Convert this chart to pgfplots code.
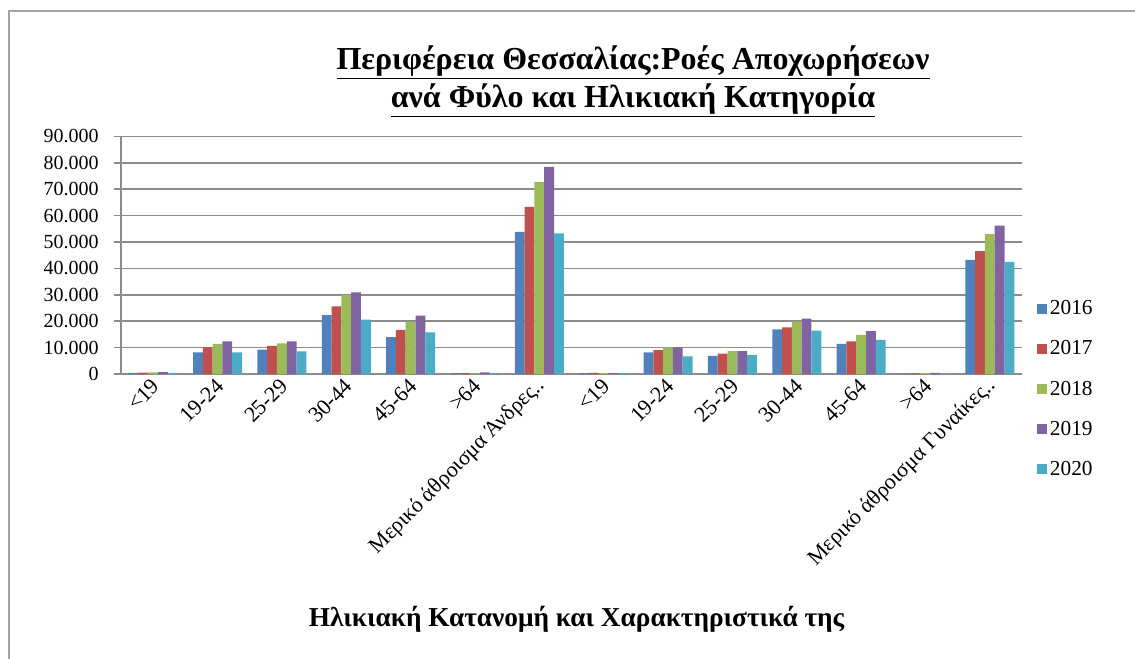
\documentclass[border=0pt]{standalone}
\usepackage{fontspec}
\setmainfont{Liberation Serif}
\usepackage{pgfplots}
\pgfplotsset{compat=1.18}
\definecolor{cA}{HTML}{4F81BD}
\definecolor{cB}{HTML}{C0504D}
\definecolor{cC}{HTML}{9BBB59}
\definecolor{cD}{HTML}{8064A2}
\definecolor{cE}{HTML}{4BACC6}
\definecolor{gridgray}{HTML}{8C8C8C}
\begin{document}
\begin{tikzpicture}
\path[use as bounding box] (0pt,0pt) rectangle (851.25pt,-494.25pt);
\draw[gridgray!80, line width=1.2pt] (6.75pt,-494.25pt) -- (6.75pt,-8.25pt) -- (851.25pt,-8.25pt);
\node[font=\bfseries\fontsize{24}{28}\selectfont, align=center] at (474.75pt,-61pt)
  {\underline{Περιφέρεια Θεσσαλίας:Ροές Αποχωρήσεων}\\\underline{ανά Φύλο και Ηλικιακή Κατηγορία}};
\node[font=\bfseries\fontsize{20.5}{24}\selectfont] at (432.4pt,-464.25pt)
  {Ηλικιακή Κατανομή και Χαρακτηριστικά της};
\begin{axis}[
  at={(90.75pt,-280.5pt)}, anchor=south west,
  scale only axis, width=675.75pt, height=178.2pt,
  ybar=0pt, bar width=7.35pt,
  xmin=-0.5, xmax=13.5, ymin=0, ymax=90000,
  enlargelimits=false,
  axis x line*=bottom, axis y line*=left,
  axis line style={gridgray, line width=1.1pt},
  ymajorgrids, grid style={gridgray, line width=1.1pt},
  ytick={0,10000,...,90000},
  scaled y ticks=false,
  xtick={0,...,13},
  xticklabels={<19,19-24,25-29,30-44,45-64,>64,Μερικό άθροισμα Άνδρες..,<19,19-24,25-29,30-44,45-64,>64,Μερικό άθροισμα Γυναίκες..},
  x tick style={draw=none},
  y tick style={gridgray, line width=1.1pt},
  tick align=outside, major tick length=5.25pt,
  yticklabel style={font=\fontsize{15}{18}\selectfont, xshift=-8pt},
  xticklabel style={font=\fontsize{16.5}{19}\selectfont, rotate=45, anchor=east, xshift=4pt, yshift=-2pt},
  /pgf/number format/.cd, fixed, 1000 sep={.}, assume math mode=true,
  /pgfplots/.cd,
  legend style={draw=none, at={(1.0122,-0.0631)}, anchor=west,
    font=\fontsize{16}{19}\selectfont, row sep=14pt, legend cell align=left},
  legend image code/.code={\fill[#1] (0pt,-3.75pt) rectangle (7.5pt,3.75pt);},
]
\addplot[fill=cA, draw=none] coordinates {(0,400) (1,8200) (2,9200) (3,22300) (4,14000) (5,300) (6,53800) (7,300) (8,8200) (9,6900) (10,16900) (11,11400) (12,100) (13,43200)};
\addplot[fill=cB, draw=none] coordinates {(0,500) (1,10100) (2,10700) (3,25600) (4,16700) (5,300) (6,63300) (7,400) (8,9000) (9,7700) (10,17700) (11,12400) (12,200) (13,46500)};
\addplot[fill=cC, draw=none] coordinates {(0,600) (1,11400) (2,11600) (3,29900) (4,19800) (5,200) (6,72700) (7,300) (8,10100) (9,8700) (10,19800) (11,14800) (12,300) (13,53000)};
\addplot[fill=cD, draw=none] coordinates {(0,700) (1,12400) (2,12400) (3,30900) (4,22100) (5,600) (6,78500) (7,300) (8,10100) (9,8700) (10,21000) (11,16200) (12,400) (13,56200)};
\addplot[fill=cE, draw=none] coordinates {(0,400) (1,8200) (2,8600) (3,20600) (4,15800) (5,300) (6,53300) (7,300) (8,6700) (9,7200) (10,16400) (11,12900) (12,200) (13,42500)};
\legend{2016,2017,2018,2019,2020}
\end{axis}
\end{tikzpicture}
\end{document}
